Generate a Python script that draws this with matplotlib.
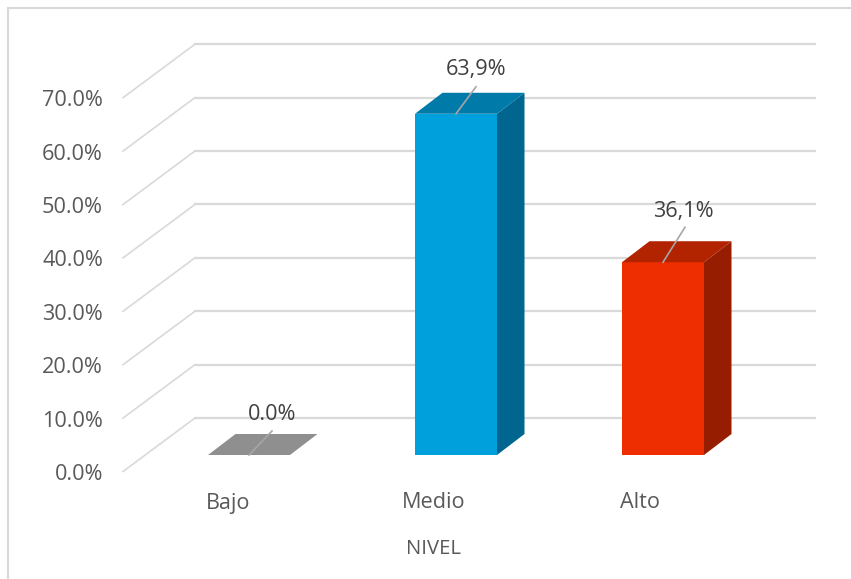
import matplotlib
matplotlib.use("Agg")
import matplotlib.pyplot as plt
from matplotlib.patches import Polygon

categories = ["Bajo", "Medio", "Alto"]
values = [0.0, 63.9, 36.1]
value_labels = ["0.0%", "63,9%", "36,1%"]
axis_ticks = [0, 10, 20, 30, 40, 50, 60, 70]
tick_labels = ["0.0%", "10.0%", "20.0%", "30.0%", "40.0%", "50.0%", "60.0%", "70.0%"]
axis_title = "NIVEL"

W, H = 851, 579
PX_PER_PCT = 5.34
PX_PER_CAT = 207.0
X0, Y0 = 249.0, 455.0   # pixel position of category 0 / value 0 on the bar front

plt.rcParams["font.family"] = ["Open Sans", "DejaVu Sans"]
fig = plt.figure(figsize=(W / 100, H / 100), dpi=100)
ax = fig.add_axes([0, 0, 1, 1])
ax.set_xlim(-X0 / PX_PER_CAT, (W - X0) / PX_PER_CAT)
ax.set_ylim(-(H - Y0) / PX_PER_PCT, Y0 / PX_PER_PCT)
ax.axis("off")

def dx(px):
    return px / PX_PER_CAT

def dy(px):
    return px / PX_PER_PCT

GRID = "#d9d9d9"
TXT = "#595959"
LBL = "#404040"
FS = 15.6

fx = lambda px: -X0 / PX_PER_CAT + px / PX_PER_CAT
fy = lambda px: (Y0 - px) / PX_PER_PCT

# chart frame: left and top edges only are visible
ax.plot([fx(8), fx(8), fx(851)], [fy(579), fy(8), fy(8)], color=GRID, lw=1.5, zorder=1,
        solid_joinstyle="miter")

# grid on the side wall and back wall
for t, lab in zip(axis_ticks, tick_labels):
    yf = t + dy(Y0 - 471.5)
    yb = t + dy(Y0 - 418)
    ax.plot([fx(123), fx(195)], [yf, yb], color=GRID, lw=1.2, zorder=2)
    ax.plot([fx(195), fx(815)], [yb, yb], color=GRID, lw=1.6, zorder=2)
    ax.text(fx(103), yf - dy(3), lab, ha="right", va="center", fontsize=FS, color=TXT)

FRONT = ["#7f7f7f", "#00a0dc", "#ee2e00"]
TOP = ["#8f8f8f", "#007aa8", "#b22400"]
SIDE = ["#8f8f8f", "#00668f", "#961d00"]
BAR_W = 82 / PX_PER_CAT
DX, DY = dx(27.5), dy(21)

# leader end (dx, dy) and label centre (dx, dy), in pixels from the bar's top centre
leaders = [(23, 24), (20, 27), (22, 35)]
label_pos = [(23, 40), (20, 44), (20, 51)]
for i, v in enumerate(values):
    l, r = i - BAR_W / 2, i + BAR_W / 2
    if v > 0:
        ax.add_patch(Polygon([(l, 0), (r, 0), (r, v), (l, v)], fc=FRONT[i], ec="none", zorder=4))
        ax.add_patch(Polygon([(r, 0), (r + DX, DY), (r + DX, v + DY), (r, v)], fc=SIDE[i], ec="none", zorder=4))
    ax.add_patch(Polygon([(l, v), (r, v), (r + DX, v + DY), (l + DX, v + DY)], fc=TOP[i], ec="none", zorder=4))
    ax.plot([i, i + dx(leaders[i][0])], [v, v + dy(leaders[i][1])],
            color="#a6a6a6", lw=1.2, zorder=5)
    ax.text(i + dx(label_pos[i][0]), v + dy(label_pos[i][1]), value_labels[i],
            ha="center", va="center", fontsize=FS, color=LBL, zorder=6)
    ax.text(fx([228, 434, 640][i]), fy(503), categories[i], ha="center", va="center",
            fontsize=FS, color=TXT)

ax.text(fx(434), fy(549), axis_title, ha="center", va="center", fontsize=14.6, color=TXT)

fig.savefig("out.png", dpi=100)
